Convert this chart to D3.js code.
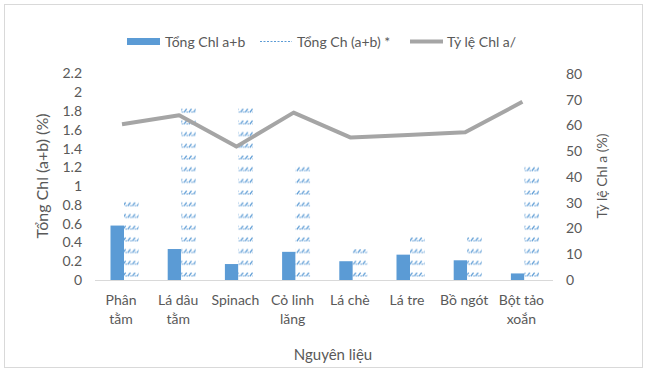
<!DOCTYPE html>
<html><head><meta charset="utf-8">
<script src="https://cdn.jsdelivr.net/npm/d3@7"></script>
<style>body{margin:0;background:#fff}svg{display:block;font-family:Lato,"Open Sans",sans-serif}</style>
</head><body><svg id="c" width="648" height="372"></svg>
<script>
const categories = [["Phân","tằm"],["Lá dâu","tằm"],["Spinach"],["Cỏ linh","lăng"],["Lá chè"],["Lá tre"],["Bồ ngót"],["Bột tảo","xoắn"]];
const totalChl = [0.58,0.33,0.17,0.30,0.20,0.27,0.21,0.07];
const totalChlStar = [0.84,1.87,1.87,1.22,0.33,0.46,0.46,1.23];
const ratioChlA = [60.5,64,51.8,65,55.3,56.3,57.4,69.2];
const leftTicks = [0,0.2,0.4,0.6,0.8,1,1.2,1.4,1.6,1.8,2,2.2];
const rightTicks = [0,10,20,30,40,50,60,70,80];
const legendLabels = ["Tổng Chl a+b","Tổng Ch (a+b) *","Tỷ lệ Chl a/"];

const svg = d3.select("#c");
const txt = "#595959";
const defs = svg.append("defs");
const pat = defs.append("pattern").attr("id","hatch").attr("patternUnits","userSpaceOnUse")
  .attr("width",4.7).attr("height",11.7);
pat.append("rect").attr("width",4.7).attr("height",11.7).attr("fill","#fff");
pat.append("path").attr("d","M0.8,7.2 L3.4,3.6").attr("stroke","#5b9bd5").attr("stroke-width",1.3);
pat.append("circle").attr("cx",3.9).attr("cy",6.8).attr("r",0.7).attr("fill","#5b9bd5");

svg.append("rect").attr("x",4.5).attr("y",4.5).attr("width",638).attr("height",363)
  .attr("fill","none").attr("stroke","#d9d9d9");

const idx = d3.range(categories.length);
const x = d3.scaleBand().domain(idx).range([95.4,553]).paddingInner(0).paddingOuter(0);
const yL = d3.scaleLinear().domain([0,2.2]).range([280,73.5]);
const yR = d3.scaleLinear().domain([0,80]).range([280,74]);
const cx = i => x(i)+x.bandwidth()/2;

const axL = d3.axisLeft(yL).tickValues(leftTicks).tickSize(0).tickPadding(0).tickFormat(d3.format("~g"));
const gL = svg.append("g").attr("transform","translate(82,0)").call(axL);
gL.select(".domain").remove();
gL.selectAll("text").attr("fill",txt).style("font-size","14px").style("font-family","Lato");
const axR = d3.axisRight(yR).tickValues(rightTicks).tickSize(0).tickPadding(0);
const gR = svg.append("g").attr("transform","translate(566,0)").call(axR);
gR.select(".domain").remove();
gR.selectAll("text").attr("fill",txt).style("font-size","14px").style("font-family","Lato");

const bw = 13.5;
svg.append("g").selectAll("rect").data(totalChl).join("rect")
  .attr("x",(d,i)=>cx(i)-bw).attr("width",bw)
  .attr("y",d=>yL(d)).attr("height",d=>yL(0)-yL(d)).attr("fill","#5b9bd5");
svg.append("g").selectAll("rect").data(totalChlStar).join("rect")
  .attr("x",(d,i)=>cx(i)).attr("width",bw+1)
  .attr("y",d=>yL(d)).attr("height",d=>yL(0)-yL(d)).attr("fill","url(#hatch)");

svg.append("line").attr("x1",95).attr("x2",553).attr("y1",280.5).attr("y2",280.5)
  .attr("stroke","#d9d9d9").attr("stroke-width",1);

svg.append("path").datum(ratioChlA)
  .attr("d",d3.line().x((d,i)=>cx(i)-2).y(d=>yR(d)))
  .attr("fill","none").attr("stroke","#a5a5a5").attr("stroke-width",4).attr("stroke-linejoin","round");

const gx = svg.append("g");
categories.forEach((lines,i)=>{
  const t = gx.append("text").attr("x",cx(i)-3).attr("y",305).attr("text-anchor","middle")
    .attr("fill",txt).style("font-size","14px");
  lines.forEach((l,j)=>t.append("tspan").attr("x",cx(i)-3).attr("dy",j?19:0).text(l));
});

svg.append("text").attr("x",333).attr("y",360).attr("text-anchor","middle").attr("fill",txt)
  .style("font-size","15px").text("Nguyên liệu");
svg.append("text").attr("transform","translate(48,176) rotate(-90)").attr("text-anchor","middle")
  .attr("fill",txt).style("font-size","16px").text("Tổng Chl (a+b) (%)");
svg.append("text").attr("transform","translate(607,176) rotate(-90)").attr("text-anchor","middle")
  .attr("fill",txt).style("font-size","14px").text("Tỷ lệ Chl a (%)");

const lg = svg.append("g");
lg.append("rect").attr("x",127).attr("y",38).attr("width",33).attr("height",7).attr("fill","#5b9bd5");
lg.append("text").attr("x",165).attr("y",47).attr("fill",txt).style("font-size","14px").text(legendLabels[0]);
lg.append("line").attr("x1",260).attr("x2",292).attr("y1",41.5).attr("y2",41.5)
  .attr("stroke","#5b9bd5").attr("stroke-width",1).attr("stroke-dasharray","2,1.5");
lg.append("text").attr("x",297).attr("y",47).attr("fill",txt).style("font-size","14px").text(legendLabels[1]);
lg.append("line").attr("x1",410).attr("x2",443).attr("y1",41.5).attr("y2",41.5)
  .attr("stroke","#a5a5a5").attr("stroke-width",4);
lg.append("text").attr("x",447).attr("y",47).attr("fill",txt).style("font-size","14px").text(legendLabels[2]);
</script></body></html>
